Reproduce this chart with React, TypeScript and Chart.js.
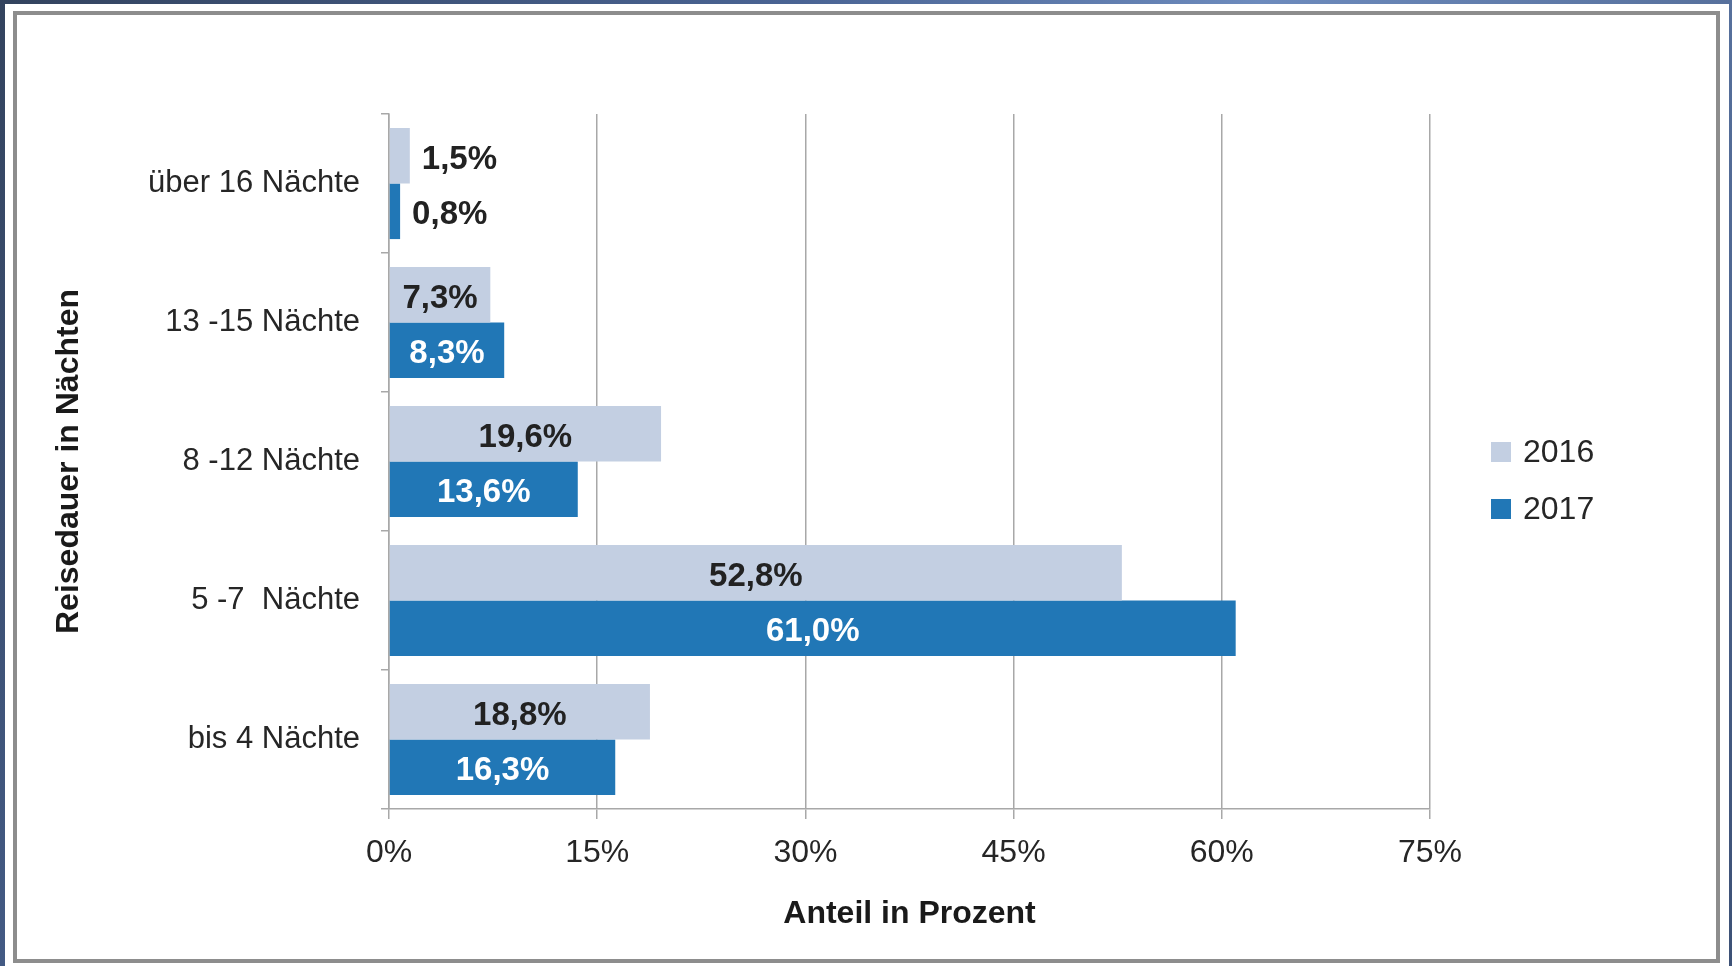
import React, { useEffect, useRef } from "react";
import { Chart, registerables } from "chart.js";

Chart.register(...registerables);

// ---------- data ----------
const categories = ["über 16 Nächte", "13 -15 Nächte", "8 -12 Nächte", "5 -7  Nächte", "bis 4 Nächte"];
const seriesNames = ["2016", "2017"];
const values2016 = [1.5, 7.3, 19.6, 52.8, 18.8];
const values2017 = [0.8, 8.3, 13.6, 61.0, 16.3];
const xMin = 0;
const xMax = 75;
const xStep = 15;
const xTitle = "Anteil in Prozent";
const yTitle = "Reisedauer in Nächten";

// ---------- styles ----------
const FONT = "'Liberation Sans', Arial, Helvetica, sans-serif";
const COLORS = ["#c3cfe2", "#2177b6"];
const LABEL_COLORS = ["#222222", "#ffffff"];
const GRID = "#a8a8a8";
const TEXT = "#262626";

const fmt = (v: number) => v.toFixed(1).replace(".", ",") + "%";

const dataLabelPlugin = {
  id: "barValueLabels",
  afterDatasetsDraw(chart: any) {
    const ctx = chart.ctx;
    ctx.save();
    ctx.font = `bold 33px ${FONT}`;
    ctx.textBaseline = "middle";
    chart.data.datasets.forEach((ds: any, di: number) => {
      const meta = chart.getDatasetMeta(di);
      meta.data.forEach((bar: any, i: number) => {
        const { x, y, base } = bar.getProps(["x", "y", "base"], true);
        const text = fmt(ds.data[i]);
        const w = ctx.measureText(text).width;
        const len = x - base;
        if (w + 8 < len) {
          ctx.textAlign = "center";
          ctx.fillStyle = LABEL_COLORS[di];
          ctx.fillText(text, (x + base) / 2, y + 4);
        } else {
          ctx.textAlign = "left";
          ctx.fillStyle = LABEL_COLORS[0];
          ctx.fillText(text, x + 12, y + 4);
        }
      });
    });
    ctx.restore();
  },
};

const legendPlugin = {
  id: "sideLegend",
  afterDraw(chart: any) {
    const { ctx, chartArea } = chart;
    const cy = (chartArea.top + chartArea.bottom) / 2;
    ctx.save();
    ctx.font = `32px ${FONT}`;
    ctx.textBaseline = "middle";
    ctx.textAlign = "left";
    chart.data.datasets.forEach((ds: any, i: number) => {
      const boxX = chartArea.right + 61;
      const boxY = cy - 19.5 + i * 57;
      ctx.fillStyle = ds.backgroundColor;
      ctx.fillRect(boxX, boxY, 20, 20);
      ctx.fillStyle = TEXT;
      ctx.fillText(ds.label, boxX + 32, boxY + 11);
    });
    ctx.restore();
  },
};

export default function App() {
  const canvasRef = useRef<HTMLCanvasElement | null>(null);

  useEffect(() => {
    if (!canvasRef.current) return;
    const chart = new Chart(canvasRef.current, {
      type: "bar",
      data: {
        labels: categories,
        datasets: [
          { label: seriesNames[0], data: values2016, backgroundColor: COLORS[0], borderWidth: 0 },
          { label: seriesNames[1], data: values2017, backgroundColor: COLORS[1], borderWidth: 0 },
        ],
      },
      options: {
        indexAxis: "y",
        responsive: false,
        animation: false,
        devicePixelRatio: 1,
        layout: { padding: { top: 99, right: 286, bottom: 0, left: 0 } },
        datasets: { bar: { categoryPercentage: 0.8, barPercentage: 1.0 } },
        plugins: {
          legend: { display: false },
          tooltip: { enabled: false },
        },
        scales: {
          x: {
            min: xMin,
            max: xMax,
            afterFit: (s: any) => {
              s.height = 150;
            },
            ticks: {
              stepSize: xStep,
              color: TEXT,
              padding: 15,
              font: { family: FONT, size: 32 },
              callback: (v: any) => v + "%",
            },
            grid: { color: GRID, lineWidth: 1.5, tickLength: 10, drawTicks: true },
            border: { color: GRID, width: 1.5 },
            title: {
              display: true,
              text: xTitle,
              color: "#1a1a1a",
              font: { family: FONT, size: 32, weight: "bold" },
              padding: { top: 0, bottom: 26 },
            },
          },
          y: {
            afterFit: (s: any) => {
              s.width = 372;
            },
            ticks: {
              color: TEXT,
              padding: 21,
              font: { family: FONT, size: 31 },
            },
            grid: { color: GRID, lineWidth: 1.5, drawOnChartArea: false, drawTicks: true, tickLength: 8, offset: true },
            border: { color: GRID, width: 1.5 },
            title: {
              display: true,
              text: yTitle,
              color: "#1a1a1a",
              font: { family: FONT, size: 32, weight: "bold" },
              padding: { top: 33, bottom: 0 },
            },
          },
        },
      },
      plugins: [dataLabelPlugin, legendPlugin],
    } as any);
    return () => chart.destroy();
  }, []);

  return (
    <div
      style={{
        position: "fixed",
        left: 0,
        top: 0,
        width: 1732,
        height: 966,
        background: "linear-gradient(120deg, #33435e 0%, #4a6494 35%, #6d8bbd 55%, #3d5176 100%)",
        overflow: "hidden",
      }}
    >
      <div style={{ position: "absolute", left: 5, top: 4, width: 1724, height: 962, background: "#ffffff" }} />
      <div
        style={{
          position: "absolute",
          left: 13,
          top: 11,
          width: 1699,
          height: 944,
          border: "4px solid #8d8d8d",
          background: "#ffffff",
        }}
      >
        <canvas ref={canvasRef} width={1699} height={944} style={{ display: "block", width: 1699, height: 944 }} />
      </div>
    </div>
  );
}
